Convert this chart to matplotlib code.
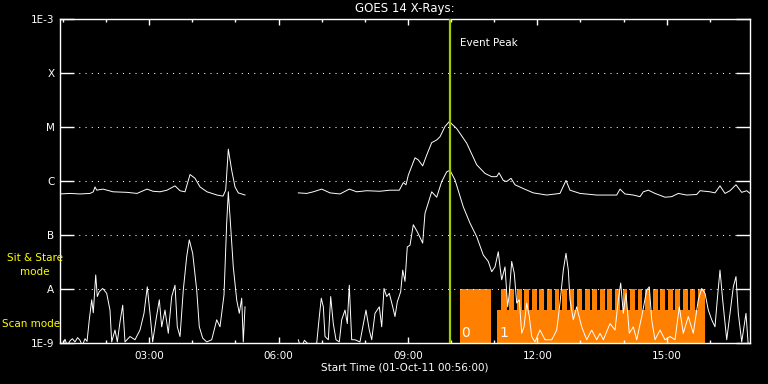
import matplotlib
matplotlib.use("Agg")
import matplotlib.pyplot as plt
import numpy as np
from matplotlib.ticker import FixedLocator, FuncFormatter, MultipleLocator, NullLocator

nan = float("nan")

# GOES 14 long channel (1-8 A): hours since midnight, log10(W/m^2)
long_t = [0.933, 1.165, 1.397, 1.629, 1.705, 1.745, 1.784, 1.930, 2.162, 2.487, 2.719, 2.950,
          3.090, 3.252, 3.414, 3.600, 3.716, 3.832, 3.948, 4.064, 4.180, 4.342, 4.574, 4.713,
          4.775, 4.836, 4.914, 4.991, 5.067, 5.146, 5.223,
          5.8,
          6.459, 6.654, 6.807, 7.001, 7.194, 7.426, 7.641, 7.813, 8.045, 8.353, 8.585, 8.801,
          8.894, 8.956, 9.010, 9.165, 9.242, 9.343, 9.436, 9.552, 9.668, 9.745, 9.861, 9.960,
          10.132, 10.364, 10.596, 10.788, 10.943, 11.059, 11.113, 11.213, 11.291, 11.391, 11.484,
          11.676, 11.908, 12.219, 12.527, 12.666, 12.759, 12.991, 13.378, 13.842, 13.919, 14.034,
          14.227, 14.382, 14.459, 14.575, 14.730, 14.962, 15.117, 15.270, 15.465, 15.697, 15.774,
          16.005, 16.121, 16.237, 16.353, 16.469, 16.608, 16.740, 16.856, 16.933]
long_log = [-6.24, -6.23, -6.24, -6.23, -6.20, -6.11, -6.17, -6.15, -6.20, -6.21, -6.23, -6.15,
            -6.19, -6.20, -6.17, -6.09, -6.18, -6.20, -5.88, -5.95, -6.11, -6.20, -6.26, -6.28,
            -6.17, -5.41, -5.80, -6.11, -6.22, -6.24, -6.26,
            nan,
            -6.22, -6.23, -6.20, -6.15, -6.22, -6.24, -6.15, -6.20, -6.18, -6.19, -6.17, -6.17,
            -6.03, -6.07, -5.89, -5.57, -5.61, -5.72, -5.52, -5.29, -5.24, -5.18, -4.99, -4.90,
            -5.03, -5.30, -5.70, -5.86, -5.92, -5.92, -5.85, -5.99, -6.01, -5.95, -6.07,
            -6.14, -6.22, -6.26, -6.23, -5.99, -6.17, -6.23, -6.26, -6.26, -6.15, -6.24,
            -6.26, -6.29, -6.20, -6.17, -6.23, -6.30, -6.29, -6.23, -6.26, -6.25, -6.18,
            -6.20, -6.22, -6.09, -6.23, -6.18, -6.07, -6.21, -6.18, -6.23]

# GOES 14 short channel (0.5-4 A)
short_t = [0.933, 0.99, 1.049, 1.10, 1.165, 1.22, 1.281, 1.34, 1.397, 1.45, 1.513, 1.56, 1.612,
           1.668, 1.705, 1.761, 1.798, 1.844, 1.923, 2.016, 2.092, 2.132, 2.208, 2.262, 2.324,
           2.387, 2.440, 2.556, 2.672, 2.788, 2.881, 2.957, 3.020, 3.082, 3.159, 3.236, 3.291,
           3.368, 3.444, 3.523, 3.600, 3.653, 3.716, 3.792, 3.871, 3.931, 4.010, 4.103, 4.163,
           4.242, 4.335, 4.451, 4.567, 4.643, 4.736, 4.798, 4.836, 4.891, 4.951, 5.030, 5.091,
           5.146, 5.183, 5.223,
           5.8,
           6.459, 6.50, 6.545, 6.60, 6.730, 6.886, 6.946, 6.992, 7.039, 7.078, 7.155, 7.210,
           7.270, 7.333, 7.410, 7.465, 7.542, 7.595, 7.641, 7.697, 7.773, 7.889, 8.028, 8.105,
           8.161, 8.237, 8.337, 8.393, 8.446, 8.508, 8.569, 8.648, 8.701, 8.754, 8.833, 8.880,
           8.933, 8.986, 9.049, 9.125, 9.218, 9.343, 9.396, 9.552, 9.668, 9.784, 9.900, 9.976,
           10.092, 10.285, 10.440, 10.595, 10.748, 10.864, 10.943, 11.020, 11.096, 11.136,
           11.175, 11.252, 11.314, 11.351, 11.407, 11.467, 11.523, 11.583, 11.639, 11.692,
           11.755, 11.815, 11.871, 11.947, 12.063, 12.179, 12.335, 12.451, 12.527, 12.604,
           12.666, 12.720, 12.759, 12.836, 12.914, 13.030, 13.146, 13.262, 13.378, 13.455,
           13.532, 13.687, 13.803, 13.879, 13.935, 13.995, 14.058, 14.134, 14.227, 14.306,
           14.422, 14.538, 14.598, 14.653, 14.730, 14.846, 14.962, 15.078, 15.194, 15.294,
           15.386, 15.502, 15.618, 15.734, 15.813, 15.890, 15.966, 16.045, 16.121, 16.174,
           16.237, 16.299, 16.393, 16.469, 16.546, 16.608, 16.662, 16.741, 16.840, 16.893]
short_log = [-8.97, -9.05, -8.93, -9.05, -8.96, -8.92, -8.98, -8.90, -8.95, -9.05, -8.92, -8.97, -8.57,
             -8.20, -8.44, -7.74, -8.14, -8.05, -7.99, -8.08, -8.39, -8.98, -8.76, -8.98, -8.61,
             -8.30, -8.98, -8.88, -8.94, -8.76, -8.45, -7.96, -8.45, -8.98, -8.57, -8.20, -8.70,
             -8.39, -8.82, -8.14, -7.93, -8.70, -8.88, -8.02, -7.40, -7.09, -7.34, -8.02, -8.70,
             -8.91, -8.98, -8.94, -8.57, -8.70, -8.11, -6.78, -6.20, -6.85, -7.59, -8.20, -8.45,
             -8.17, -8.98, -8.33,
             nan,
             -8.94, -9.05, -9.05, -8.95, -9.05, -9.00, -8.51, -8.17, -8.33, -8.88, -8.94, -8.14,
             -8.64, -8.94, -8.98, -8.57, -8.39, -8.64, -7.93, -8.94, -8.94, -8.98, -8.39, -8.76,
             -8.94, -8.45, -8.33, -8.70, -7.99, -8.14, -8.08, -8.33, -8.51, -8.24, -8.05, -7.65,
             -7.86, -7.22, -7.19, -6.81, -6.94, -7.15, -6.60, -6.20, -6.30, -6.01, -5.83, -5.80,
             -5.98, -6.48, -6.78, -7.03, -7.37, -7.49, -7.68, -7.59, -7.31, -7.59,
             -7.83, -7.59, -8.33, -8.08, -7.49, -7.71, -8.26, -8.20, -8.82, -8.70,
             -8.26, -8.51, -8.88, -8.98, -8.76, -8.94, -8.94, -8.76, -8.26, -7.65,
             -7.34, -7.65, -8.20, -8.57, -8.33, -8.70, -8.94, -8.76, -8.94, -8.82,
             -8.94, -8.64, -8.76, -8.20, -7.89, -8.45, -8.08, -8.82, -8.70, -8.94,
             -8.51, -8.02, -7.96, -8.57, -8.94, -8.76, -8.94, -8.88, -8.94, -8.33,
             -8.82, -8.51, -8.82, -8.20, -7.99, -8.08, -8.39, -8.57, -8.70, -8.20,
             -7.65, -8.20, -8.94, -8.45, -7.96, -7.77, -8.45, -8.98, -8.45, -9.05]

peak_time = 9.97

# observing modes (hours)
stare_start, stare_end = 10.21, 10.93
scan_start, scan_end = 11.07, 15.89
comb_start = 11.16
scan_level = 4.1e-9
gap_starts = [11.287, 11.462, 11.637, 11.812, 11.987, 12.163, 12.338, 12.513, 12.688, 12.863,
              13.038, 13.213, 13.388, 13.563, 13.738, 13.914, 14.089, 14.264, 14.439, 14.614,
              14.789, 14.964, 15.139, 15.314, 15.489, 15.665]
gap_width = 0.063

level_labels = ["1E-9", "A", "B", "C", "M", "X", "1E-3"]
level_values = [1e-9, 1e-8, 1e-7, 1e-6, 1e-5, 1e-4, 1e-3]

orange = "#ff8000"
peak_color = "#a0cc00"

fig = plt.figure(figsize=(7.68, 3.84), dpi=100, facecolor="black")
ax = fig.add_axes([60 / 768, 41 / 384, 690 / 768, 324 / 384])
ax.set_facecolor("black")

# mode bars
ax.bar(stare_start, 1e-8 - 1e-9, width=stare_end - stare_start, bottom=1e-9,
       align="edge", color=orange, linewidth=0, zorder=1)
ax.bar(scan_start, scan_level - 1e-9, width=scan_end - scan_start, bottom=1e-9,
       align="edge", color=orange, linewidth=0, zorder=1)
tooth_left = [comb_start] + [g + gap_width for g in gap_starts]
tooth_right = gap_starts + [scan_end]
for l, r in zip(tooth_left, tooth_right):
    ax.bar(l, 1e-8 - 1e-9, width=r - l, bottom=1e-9, align="edge",
           color=orange, linewidth=0, zorder=1)

ax.plot(long_t, 10 ** np.array(long_log), color="white", lw=0.7, zorder=3)
ax.plot(short_t, 10 ** np.array(short_log), color="white", lw=0.7, zorder=3)
ax.axvline(peak_time, color=peak_color, lw=1.6, zorder=4)

ax.set_yscale("log")
ax.set_ylim(1e-9, 1e-3)
ax.set_xlim(0.933, 16.933)

ax.yaxis.set_major_locator(FixedLocator(level_values))
ax.yaxis.set_minor_locator(NullLocator())
ax.set_yticklabels(level_labels)
ax.xaxis.set_major_locator(MultipleLocator(3))
ax.xaxis.set_minor_locator(MultipleLocator(1))
ax.xaxis.set_major_formatter(FuncFormatter(lambda v, p: "%02d:00" % int(round(v))))

ax.tick_params(axis="y", which="major", direction="in", length=10, width=1,
               colors="white", right=True, labelsize=7.5, pad=4)
ax.tick_params(axis="x", which="major", direction="in", length=4.5, width=1,
               colors="white", top=True, labelsize=7.5, pad=6)
ax.tick_params(axis="x", which="minor", direction="in", length=2.5, width=1,
               colors="white", top=True)
for s in ax.spines.values():
    s.set_color("white")
    s.set_linewidth(1)

ax.grid(axis="y", which="major", color="white", linestyle=(0, (1, 5)), linewidth=0.75, zorder=2)
ax.set_axisbelow(False)

ax.set_title("GOES 14 X-Rays:", color="white", fontsize=8.5, pad=5)
ax.set_xlabel("Start Time (01-Oct-11 00:56:00)", color="white", fontsize=7.5, labelpad=1)

ax.text(peak_time + 0.23, 10 ** -3.45, "Event Peak", color="white", fontsize=7.5, va="center")
ax.text(stare_start + 0.03, 10 ** -8.88, "0", color="white", fontsize=10, va="baseline")
ax.text(scan_start + 0.05, 10 ** -8.88, "1", color="white", fontsize=10, va="baseline")

fig.text(35 / 768, 1 - 258 / 384, "Sit & Stare", color="yellow", fontsize=7.5,
         ha="center", va="center")
fig.text(35 / 768, 1 - 272 / 384, "mode", color="yellow", fontsize=7.5,
         ha="center", va="center")
fig.text(2 / 768, 1 - 324 / 384, "Scan mode", color="yellow", fontsize=7.5,
         ha="left", va="center")

fig.savefig("out.png", dpi=100, facecolor="black")
